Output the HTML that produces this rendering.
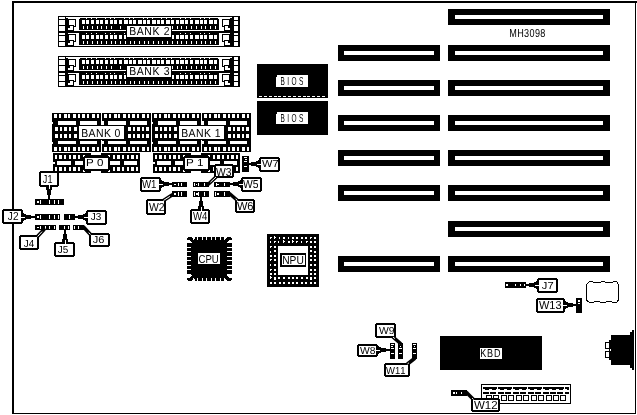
<!DOCTYPE html>
<html><head><meta charset="utf-8"><style>
html,body{margin:0;padding:0;background:#fff;width:637px;height:415px;overflow:hidden}
svg{display:block;will-change:transform}
text{font-family:"Liberation Sans",sans-serif;font-kerning:none;text-rendering:geometricPrecision}
</style></head><body>
<svg width="637" height="415" viewBox="0 0 637 415" shape-rendering="crispEdges">
<rect x="0" y="0" width="637" height="415" fill="#fff"/>
<rect x="12" y="1" width="625" height="2" fill="#000"/>
<rect x="12" y="1" width="2" height="413" fill="#000"/>
<rect x="635" y="1" width="1" height="413" fill="#000"/>
<rect x="12" y="413" width="624" height="1" fill="#000"/>
<rect x="448" y="9" width="162" height="16" fill="#000"/>
<rect x="455" y="15" width="148" height="4" fill="#fff"/>
<rect x="448" y="45" width="162" height="16" fill="#000"/>
<rect x="455" y="51" width="148" height="4" fill="#fff"/>
<rect x="338" y="45" width="102" height="16" fill="#000"/>
<rect x="344" y="51" width="90" height="4" fill="#fff"/>
<rect x="448" y="80" width="162" height="16" fill="#000"/>
<rect x="455" y="86" width="148" height="4" fill="#fff"/>
<rect x="338" y="80" width="102" height="16" fill="#000"/>
<rect x="344" y="86" width="90" height="4" fill="#fff"/>
<rect x="448" y="115" width="162" height="16" fill="#000"/>
<rect x="455" y="121" width="148" height="4" fill="#fff"/>
<rect x="338" y="115" width="102" height="16" fill="#000"/>
<rect x="344" y="121" width="90" height="4" fill="#fff"/>
<rect x="448" y="150" width="162" height="16" fill="#000"/>
<rect x="455" y="156" width="148" height="4" fill="#fff"/>
<rect x="338" y="150" width="102" height="16" fill="#000"/>
<rect x="344" y="156" width="90" height="4" fill="#fff"/>
<rect x="448" y="185" width="162" height="16" fill="#000"/>
<rect x="455" y="191" width="148" height="4" fill="#fff"/>
<rect x="338" y="185" width="102" height="16" fill="#000"/>
<rect x="344" y="191" width="90" height="4" fill="#fff"/>
<rect x="448" y="221" width="162" height="16" fill="#000"/>
<rect x="455" y="227" width="148" height="4" fill="#fff"/>
<rect x="448" y="256" width="162" height="16" fill="#000"/>
<rect x="455" y="262" width="148" height="4" fill="#fff"/>
<rect x="338" y="256" width="102" height="16" fill="#000"/>
<rect x="344" y="262" width="90" height="4" fill="#fff"/>
<text transform="translate(509.26,37) scale(0.780,1)" font-size="11.63" letter-spacing="0.476" fill="#000" xml:space="preserve">MH3098</text>
<rect x="257" y="64" width="71" height="34" fill="#000"/>
<rect x="276" y="75" width="32" height="12" fill="#fff"/>
<rect x="276" y="75" width="1" height="2" fill="#000"/>
<text transform="translate(280.47,85) scale(0.560,1)" font-size="11.63" letter-spacing="4.329" fill="#000" xml:space="preserve">BIOS</text>
<rect x="259" y="96" width="3" height="1" fill="#fff"/>
<rect x="264" y="96" width="3" height="1" fill="#fff"/>
<rect x="269" y="96" width="3" height="1" fill="#fff"/>
<rect x="274" y="96" width="3" height="1" fill="#fff"/>
<rect x="278" y="96" width="3" height="1" fill="#fff"/>
<rect x="283" y="96" width="3" height="1" fill="#fff"/>
<rect x="288" y="96" width="3" height="1" fill="#fff"/>
<rect x="293" y="96" width="3" height="1" fill="#fff"/>
<rect x="298" y="96" width="3" height="1" fill="#fff"/>
<rect x="303" y="96" width="3" height="1" fill="#fff"/>
<rect x="307" y="96" width="3" height="1" fill="#fff"/>
<rect x="312" y="96" width="3" height="1" fill="#fff"/>
<rect x="317" y="96" width="3" height="1" fill="#fff"/>
<rect x="322" y="96" width="3" height="1" fill="#fff"/>
<rect x="257" y="101" width="71" height="34" fill="#000"/>
<rect x="276" y="112" width="32" height="12" fill="#fff"/>
<rect x="276" y="112" width="1" height="2" fill="#000"/>
<text transform="translate(280.47,122) scale(0.560,1)" font-size="11.63" letter-spacing="4.329" fill="#000" xml:space="preserve">BIOS</text>
<rect x="440" y="336" width="102" height="34" fill="#000"/>
<rect x="480" y="348" width="22" height="11" fill="#fff"/>
<text transform="translate(480.26,357) scale(0.780,1)" font-size="11.63" letter-spacing="0.980" fill="#000" xml:space="preserve">KBD</text>
<rect x="58" y="16" width="182" height="31" fill="#000"/>
<rect x="68" y="17" width="162" height="14" fill="#fff"/>
<rect x="68" y="33" width="162" height="13" fill="#fff"/>
<rect x="66" y="17" width="2" height="1" fill="#fff"/>
<rect x="230" y="17" width="2" height="1" fill="#fff"/>
<rect x="59" y="17" width="6" height="2" fill="#fff"/>
<rect x="59" y="20" width="6" height="5" fill="#fff"/>
<rect x="59" y="26" width="6" height="5" fill="#fff"/>
<rect x="59" y="33" width="6" height="2" fill="#fff"/>
<rect x="59" y="36" width="6" height="5" fill="#fff"/>
<rect x="59" y="42" width="6" height="4" fill="#fff"/>
<rect x="234" y="17" width="4" height="3" fill="#fff"/>
<rect x="234" y="21" width="4" height="4" fill="#fff"/>
<rect x="234" y="26" width="4" height="5" fill="#fff"/>
<rect x="234" y="33" width="4" height="2" fill="#fff"/>
<rect x="234" y="36" width="4" height="5" fill="#fff"/>
<rect x="234" y="42" width="4" height="4" fill="#fff"/>
<rect x="68" y="19" width="8" height="1" fill="#000"/>
<rect x="222" y="19" width="8" height="1" fill="#000"/>
<rect x="68" y="19" width="1" height="9" fill="#000"/>
<rect x="229" y="19" width="1" height="9" fill="#000"/>
<rect x="75" y="19" width="1" height="8" fill="#000"/>
<rect x="222" y="19" width="1" height="8" fill="#000"/>
<rect x="68" y="25" width="6" height="1" fill="#000"/>
<rect x="224" y="25" width="6" height="1" fill="#000"/>
<rect x="73" y="26" width="3" height="1" fill="#000"/>
<rect x="222" y="26" width="3" height="1" fill="#000"/>
<rect x="73" y="26" width="1" height="5" fill="#000"/>
<rect x="224" y="26" width="1" height="5" fill="#000"/>
<rect x="68" y="26" width="2" height="2" fill="#000"/>
<rect x="228" y="26" width="2" height="2" fill="#000"/>
<rect x="68" y="30" width="6" height="1" fill="#000"/>
<rect x="224" y="30" width="6" height="1" fill="#000"/>
<rect x="68" y="34" width="8" height="1" fill="#000"/>
<rect x="222" y="34" width="8" height="1" fill="#000"/>
<rect x="68" y="34" width="1" height="9" fill="#000"/>
<rect x="229" y="34" width="1" height="9" fill="#000"/>
<rect x="75" y="34" width="1" height="8" fill="#000"/>
<rect x="222" y="34" width="1" height="8" fill="#000"/>
<rect x="68" y="40" width="6" height="1" fill="#000"/>
<rect x="224" y="40" width="6" height="1" fill="#000"/>
<rect x="73" y="41" width="3" height="1" fill="#000"/>
<rect x="222" y="41" width="3" height="1" fill="#000"/>
<rect x="73" y="41" width="1" height="5" fill="#000"/>
<rect x="224" y="41" width="1" height="5" fill="#000"/>
<rect x="68" y="41" width="2" height="2" fill="#000"/>
<rect x="228" y="41" width="2" height="2" fill="#000"/>
<rect x="68" y="45" width="6" height="1" fill="#000"/>
<rect x="224" y="45" width="6" height="1" fill="#000"/>
<rect x="79" y="18" width="140" height="12" fill="#000"/>
<rect x="79" y="31" width="140" height="14" fill="#000"/>
<rect x="79" y="18" width="1" height="1" fill="#fff"/>
<rect x="218" y="18" width="1" height="1" fill="#fff"/>
<rect x="82" y="20" width="3" height="4" fill="#fff"/>
<rect x="82" y="35" width="3" height="4" fill="#fff"/>
<rect x="83" y="26" width="1" height="3" fill="#fff"/>
<rect x="83" y="41" width="1" height="3" fill="#fff"/>
<rect x="86" y="20" width="3" height="4" fill="#fff"/>
<rect x="86" y="35" width="3" height="4" fill="#fff"/>
<rect x="87" y="26" width="1" height="3" fill="#fff"/>
<rect x="87" y="41" width="1" height="3" fill="#fff"/>
<rect x="86" y="18" width="1" height="1" fill="#fff"/>
<rect x="86" y="33" width="1" height="1" fill="#fff"/>
<rect x="91" y="20" width="3" height="4" fill="#fff"/>
<rect x="91" y="35" width="3" height="4" fill="#fff"/>
<rect x="92" y="26" width="1" height="3" fill="#fff"/>
<rect x="92" y="41" width="1" height="3" fill="#fff"/>
<rect x="91" y="18" width="1" height="1" fill="#fff"/>
<rect x="91" y="33" width="1" height="1" fill="#fff"/>
<rect x="96" y="20" width="3" height="4" fill="#fff"/>
<rect x="96" y="35" width="3" height="4" fill="#fff"/>
<rect x="97" y="26" width="1" height="3" fill="#fff"/>
<rect x="97" y="41" width="1" height="3" fill="#fff"/>
<rect x="96" y="18" width="1" height="1" fill="#fff"/>
<rect x="96" y="33" width="1" height="1" fill="#fff"/>
<rect x="100" y="20" width="3" height="4" fill="#fff"/>
<rect x="100" y="35" width="3" height="4" fill="#fff"/>
<rect x="101" y="26" width="1" height="3" fill="#fff"/>
<rect x="101" y="41" width="1" height="3" fill="#fff"/>
<rect x="105" y="20" width="3" height="4" fill="#fff"/>
<rect x="105" y="35" width="3" height="4" fill="#fff"/>
<rect x="106" y="26" width="1" height="3" fill="#fff"/>
<rect x="106" y="41" width="1" height="3" fill="#fff"/>
<rect x="105" y="18" width="1" height="1" fill="#fff"/>
<rect x="105" y="33" width="1" height="1" fill="#fff"/>
<rect x="110" y="20" width="3" height="4" fill="#fff"/>
<rect x="110" y="35" width="3" height="4" fill="#fff"/>
<rect x="111" y="26" width="1" height="3" fill="#fff"/>
<rect x="111" y="41" width="1" height="3" fill="#fff"/>
<rect x="110" y="18" width="1" height="1" fill="#fff"/>
<rect x="110" y="33" width="1" height="1" fill="#fff"/>
<rect x="114" y="20" width="3" height="4" fill="#fff"/>
<rect x="114" y="35" width="3" height="4" fill="#fff"/>
<rect x="115" y="41" width="1" height="3" fill="#fff"/>
<rect x="114" y="18" width="1" height="1" fill="#fff"/>
<rect x="114" y="33" width="1" height="1" fill="#fff"/>
<rect x="119" y="20" width="3" height="4" fill="#fff"/>
<rect x="119" y="35" width="3" height="4" fill="#fff"/>
<rect x="120" y="26" width="1" height="3" fill="#fff"/>
<rect x="120" y="41" width="1" height="3" fill="#fff"/>
<rect x="124" y="20" width="4" height="4" fill="#fff"/>
<rect x="124" y="35" width="4" height="4" fill="#fff"/>
<rect x="125" y="41" width="1" height="3" fill="#fff"/>
<rect x="124" y="18" width="1" height="1" fill="#fff"/>
<rect x="124" y="33" width="1" height="1" fill="#fff"/>
<rect x="129" y="20" width="3" height="4" fill="#fff"/>
<rect x="129" y="35" width="3" height="4" fill="#fff"/>
<rect x="130" y="26" width="1" height="3" fill="#fff"/>
<rect x="130" y="41" width="1" height="3" fill="#fff"/>
<rect x="129" y="18" width="1" height="1" fill="#fff"/>
<rect x="129" y="33" width="1" height="1" fill="#fff"/>
<rect x="133" y="20" width="3" height="4" fill="#fff"/>
<rect x="133" y="35" width="3" height="4" fill="#fff"/>
<rect x="134" y="41" width="1" height="3" fill="#fff"/>
<rect x="133" y="18" width="1" height="1" fill="#fff"/>
<rect x="133" y="33" width="1" height="1" fill="#fff"/>
<rect x="138" y="20" width="4" height="4" fill="#fff"/>
<rect x="138" y="35" width="4" height="4" fill="#fff"/>
<rect x="139" y="26" width="1" height="3" fill="#fff"/>
<rect x="139" y="41" width="1" height="3" fill="#fff"/>
<rect x="143" y="20" width="3" height="4" fill="#fff"/>
<rect x="143" y="35" width="3" height="4" fill="#fff"/>
<rect x="144" y="26" width="1" height="3" fill="#fff"/>
<rect x="144" y="41" width="1" height="3" fill="#fff"/>
<rect x="143" y="18" width="1" height="1" fill="#fff"/>
<rect x="143" y="33" width="1" height="1" fill="#fff"/>
<rect x="147" y="20" width="3" height="4" fill="#fff"/>
<rect x="147" y="35" width="3" height="4" fill="#fff"/>
<rect x="148" y="26" width="1" height="3" fill="#fff"/>
<rect x="148" y="41" width="1" height="3" fill="#fff"/>
<rect x="147" y="18" width="1" height="1" fill="#fff"/>
<rect x="147" y="33" width="1" height="1" fill="#fff"/>
<rect x="152" y="20" width="4" height="4" fill="#fff"/>
<rect x="152" y="35" width="4" height="4" fill="#fff"/>
<rect x="153" y="26" width="1" height="3" fill="#fff"/>
<rect x="153" y="41" width="1" height="3" fill="#fff"/>
<rect x="152" y="18" width="1" height="1" fill="#fff"/>
<rect x="152" y="33" width="1" height="1" fill="#fff"/>
<rect x="157" y="20" width="3" height="4" fill="#fff"/>
<rect x="157" y="35" width="3" height="4" fill="#fff"/>
<rect x="158" y="26" width="1" height="3" fill="#fff"/>
<rect x="158" y="41" width="1" height="3" fill="#fff"/>
<rect x="161" y="20" width="3" height="4" fill="#fff"/>
<rect x="161" y="35" width="3" height="4" fill="#fff"/>
<rect x="162" y="26" width="1" height="3" fill="#fff"/>
<rect x="162" y="41" width="1" height="3" fill="#fff"/>
<rect x="161" y="18" width="1" height="1" fill="#fff"/>
<rect x="161" y="33" width="1" height="1" fill="#fff"/>
<rect x="166" y="20" width="4" height="4" fill="#fff"/>
<rect x="166" y="35" width="4" height="4" fill="#fff"/>
<rect x="167" y="26" width="1" height="3" fill="#fff"/>
<rect x="167" y="41" width="1" height="3" fill="#fff"/>
<rect x="166" y="18" width="1" height="1" fill="#fff"/>
<rect x="166" y="33" width="1" height="1" fill="#fff"/>
<rect x="171" y="20" width="3" height="4" fill="#fff"/>
<rect x="171" y="35" width="3" height="4" fill="#fff"/>
<rect x="172" y="26" width="1" height="3" fill="#fff"/>
<rect x="172" y="41" width="1" height="3" fill="#fff"/>
<rect x="171" y="18" width="1" height="1" fill="#fff"/>
<rect x="171" y="33" width="1" height="1" fill="#fff"/>
<rect x="176" y="20" width="3" height="4" fill="#fff"/>
<rect x="176" y="35" width="3" height="4" fill="#fff"/>
<rect x="177" y="26" width="1" height="3" fill="#fff"/>
<rect x="177" y="41" width="1" height="3" fill="#fff"/>
<rect x="180" y="20" width="4" height="4" fill="#fff"/>
<rect x="180" y="35" width="4" height="4" fill="#fff"/>
<rect x="181" y="26" width="1" height="3" fill="#fff"/>
<rect x="181" y="41" width="1" height="3" fill="#fff"/>
<rect x="180" y="18" width="1" height="1" fill="#fff"/>
<rect x="180" y="33" width="1" height="1" fill="#fff"/>
<rect x="185" y="20" width="3" height="4" fill="#fff"/>
<rect x="185" y="35" width="3" height="4" fill="#fff"/>
<rect x="186" y="26" width="1" height="3" fill="#fff"/>
<rect x="186" y="41" width="1" height="3" fill="#fff"/>
<rect x="185" y="18" width="1" height="1" fill="#fff"/>
<rect x="185" y="33" width="1" height="1" fill="#fff"/>
<rect x="190" y="20" width="3" height="4" fill="#fff"/>
<rect x="190" y="35" width="3" height="4" fill="#fff"/>
<rect x="191" y="26" width="1" height="3" fill="#fff"/>
<rect x="191" y="41" width="1" height="3" fill="#fff"/>
<rect x="190" y="18" width="1" height="1" fill="#fff"/>
<rect x="190" y="33" width="1" height="1" fill="#fff"/>
<rect x="195" y="20" width="4" height="4" fill="#fff"/>
<rect x="195" y="35" width="4" height="4" fill="#fff"/>
<rect x="196" y="26" width="1" height="3" fill="#fff"/>
<rect x="196" y="41" width="1" height="3" fill="#fff"/>
<rect x="200" y="20" width="3" height="4" fill="#fff"/>
<rect x="200" y="35" width="3" height="4" fill="#fff"/>
<rect x="201" y="26" width="1" height="3" fill="#fff"/>
<rect x="201" y="41" width="1" height="3" fill="#fff"/>
<rect x="200" y="18" width="1" height="1" fill="#fff"/>
<rect x="200" y="33" width="1" height="1" fill="#fff"/>
<rect x="204" y="20" width="3" height="4" fill="#fff"/>
<rect x="204" y="35" width="3" height="4" fill="#fff"/>
<rect x="205" y="26" width="1" height="3" fill="#fff"/>
<rect x="205" y="41" width="1" height="3" fill="#fff"/>
<rect x="204" y="18" width="1" height="1" fill="#fff"/>
<rect x="204" y="33" width="1" height="1" fill="#fff"/>
<rect x="209" y="20" width="4" height="4" fill="#fff"/>
<rect x="209" y="35" width="4" height="4" fill="#fff"/>
<rect x="210" y="26" width="1" height="3" fill="#fff"/>
<rect x="210" y="41" width="1" height="3" fill="#fff"/>
<rect x="209" y="18" width="1" height="1" fill="#fff"/>
<rect x="209" y="33" width="1" height="1" fill="#fff"/>
<rect x="214" y="20" width="3" height="4" fill="#fff"/>
<rect x="214" y="35" width="3" height="4" fill="#fff"/>
<rect x="215" y="26" width="1" height="3" fill="#fff"/>
<rect x="215" y="41" width="1" height="3" fill="#fff"/>
<rect x="126" y="25" width="46" height="14" fill="#000"/>
<rect x="127" y="26" width="44" height="11" fill="#fff"/>
<text transform="translate(129.14,35) scale(0.900,1)" font-size="11.63" letter-spacing="0.702" fill="#000" xml:space="preserve">BANK 2</text>
<rect x="58" y="56" width="182" height="31" fill="#000"/>
<rect x="68" y="57" width="162" height="14" fill="#fff"/>
<rect x="68" y="73" width="162" height="13" fill="#fff"/>
<rect x="66" y="57" width="2" height="1" fill="#fff"/>
<rect x="230" y="57" width="2" height="1" fill="#fff"/>
<rect x="59" y="57" width="6" height="2" fill="#fff"/>
<rect x="59" y="60" width="6" height="5" fill="#fff"/>
<rect x="59" y="66" width="6" height="5" fill="#fff"/>
<rect x="59" y="73" width="6" height="2" fill="#fff"/>
<rect x="59" y="76" width="6" height="5" fill="#fff"/>
<rect x="59" y="82" width="6" height="4" fill="#fff"/>
<rect x="234" y="57" width="4" height="3" fill="#fff"/>
<rect x="234" y="61" width="4" height="4" fill="#fff"/>
<rect x="234" y="66" width="4" height="5" fill="#fff"/>
<rect x="234" y="73" width="4" height="2" fill="#fff"/>
<rect x="234" y="76" width="4" height="5" fill="#fff"/>
<rect x="234" y="82" width="4" height="4" fill="#fff"/>
<rect x="68" y="59" width="8" height="1" fill="#000"/>
<rect x="222" y="59" width="8" height="1" fill="#000"/>
<rect x="68" y="59" width="1" height="9" fill="#000"/>
<rect x="229" y="59" width="1" height="9" fill="#000"/>
<rect x="75" y="59" width="1" height="8" fill="#000"/>
<rect x="222" y="59" width="1" height="8" fill="#000"/>
<rect x="68" y="65" width="6" height="1" fill="#000"/>
<rect x="224" y="65" width="6" height="1" fill="#000"/>
<rect x="73" y="66" width="3" height="1" fill="#000"/>
<rect x="222" y="66" width="3" height="1" fill="#000"/>
<rect x="73" y="66" width="1" height="5" fill="#000"/>
<rect x="224" y="66" width="1" height="5" fill="#000"/>
<rect x="68" y="66" width="2" height="2" fill="#000"/>
<rect x="228" y="66" width="2" height="2" fill="#000"/>
<rect x="68" y="70" width="6" height="1" fill="#000"/>
<rect x="224" y="70" width="6" height="1" fill="#000"/>
<rect x="68" y="74" width="8" height="1" fill="#000"/>
<rect x="222" y="74" width="8" height="1" fill="#000"/>
<rect x="68" y="74" width="1" height="9" fill="#000"/>
<rect x="229" y="74" width="1" height="9" fill="#000"/>
<rect x="75" y="74" width="1" height="8" fill="#000"/>
<rect x="222" y="74" width="1" height="8" fill="#000"/>
<rect x="68" y="80" width="6" height="1" fill="#000"/>
<rect x="224" y="80" width="6" height="1" fill="#000"/>
<rect x="73" y="81" width="3" height="1" fill="#000"/>
<rect x="222" y="81" width="3" height="1" fill="#000"/>
<rect x="73" y="81" width="1" height="5" fill="#000"/>
<rect x="224" y="81" width="1" height="5" fill="#000"/>
<rect x="68" y="81" width="2" height="2" fill="#000"/>
<rect x="228" y="81" width="2" height="2" fill="#000"/>
<rect x="68" y="85" width="6" height="1" fill="#000"/>
<rect x="224" y="85" width="6" height="1" fill="#000"/>
<rect x="79" y="58" width="140" height="12" fill="#000"/>
<rect x="79" y="71" width="140" height="14" fill="#000"/>
<rect x="79" y="58" width="1" height="1" fill="#fff"/>
<rect x="218" y="58" width="1" height="1" fill="#fff"/>
<rect x="82" y="60" width="3" height="4" fill="#fff"/>
<rect x="82" y="75" width="3" height="4" fill="#fff"/>
<rect x="83" y="66" width="1" height="3" fill="#fff"/>
<rect x="83" y="81" width="1" height="3" fill="#fff"/>
<rect x="86" y="60" width="3" height="4" fill="#fff"/>
<rect x="86" y="75" width="3" height="4" fill="#fff"/>
<rect x="87" y="66" width="1" height="3" fill="#fff"/>
<rect x="87" y="81" width="1" height="3" fill="#fff"/>
<rect x="86" y="58" width="1" height="1" fill="#fff"/>
<rect x="86" y="73" width="1" height="1" fill="#fff"/>
<rect x="91" y="60" width="3" height="4" fill="#fff"/>
<rect x="91" y="75" width="3" height="4" fill="#fff"/>
<rect x="92" y="66" width="1" height="3" fill="#fff"/>
<rect x="92" y="81" width="1" height="3" fill="#fff"/>
<rect x="91" y="58" width="1" height="1" fill="#fff"/>
<rect x="91" y="73" width="1" height="1" fill="#fff"/>
<rect x="96" y="60" width="3" height="4" fill="#fff"/>
<rect x="96" y="75" width="3" height="4" fill="#fff"/>
<rect x="97" y="66" width="1" height="3" fill="#fff"/>
<rect x="97" y="81" width="1" height="3" fill="#fff"/>
<rect x="96" y="58" width="1" height="1" fill="#fff"/>
<rect x="96" y="73" width="1" height="1" fill="#fff"/>
<rect x="100" y="60" width="3" height="4" fill="#fff"/>
<rect x="100" y="75" width="3" height="4" fill="#fff"/>
<rect x="101" y="66" width="1" height="3" fill="#fff"/>
<rect x="101" y="81" width="1" height="3" fill="#fff"/>
<rect x="105" y="60" width="3" height="4" fill="#fff"/>
<rect x="105" y="75" width="3" height="4" fill="#fff"/>
<rect x="106" y="66" width="1" height="3" fill="#fff"/>
<rect x="106" y="81" width="1" height="3" fill="#fff"/>
<rect x="105" y="58" width="1" height="1" fill="#fff"/>
<rect x="105" y="73" width="1" height="1" fill="#fff"/>
<rect x="110" y="60" width="3" height="4" fill="#fff"/>
<rect x="110" y="75" width="3" height="4" fill="#fff"/>
<rect x="111" y="66" width="1" height="3" fill="#fff"/>
<rect x="111" y="81" width="1" height="3" fill="#fff"/>
<rect x="110" y="58" width="1" height="1" fill="#fff"/>
<rect x="110" y="73" width="1" height="1" fill="#fff"/>
<rect x="114" y="60" width="3" height="4" fill="#fff"/>
<rect x="114" y="75" width="3" height="4" fill="#fff"/>
<rect x="115" y="81" width="1" height="3" fill="#fff"/>
<rect x="114" y="58" width="1" height="1" fill="#fff"/>
<rect x="114" y="73" width="1" height="1" fill="#fff"/>
<rect x="119" y="60" width="3" height="4" fill="#fff"/>
<rect x="119" y="75" width="3" height="4" fill="#fff"/>
<rect x="120" y="66" width="1" height="3" fill="#fff"/>
<rect x="120" y="81" width="1" height="3" fill="#fff"/>
<rect x="124" y="60" width="4" height="4" fill="#fff"/>
<rect x="124" y="75" width="4" height="4" fill="#fff"/>
<rect x="125" y="81" width="1" height="3" fill="#fff"/>
<rect x="124" y="58" width="1" height="1" fill="#fff"/>
<rect x="124" y="73" width="1" height="1" fill="#fff"/>
<rect x="129" y="60" width="3" height="4" fill="#fff"/>
<rect x="129" y="75" width="3" height="4" fill="#fff"/>
<rect x="130" y="66" width="1" height="3" fill="#fff"/>
<rect x="130" y="81" width="1" height="3" fill="#fff"/>
<rect x="129" y="58" width="1" height="1" fill="#fff"/>
<rect x="129" y="73" width="1" height="1" fill="#fff"/>
<rect x="133" y="60" width="3" height="4" fill="#fff"/>
<rect x="133" y="75" width="3" height="4" fill="#fff"/>
<rect x="134" y="81" width="1" height="3" fill="#fff"/>
<rect x="133" y="58" width="1" height="1" fill="#fff"/>
<rect x="133" y="73" width="1" height="1" fill="#fff"/>
<rect x="138" y="60" width="4" height="4" fill="#fff"/>
<rect x="138" y="75" width="4" height="4" fill="#fff"/>
<rect x="139" y="66" width="1" height="3" fill="#fff"/>
<rect x="139" y="81" width="1" height="3" fill="#fff"/>
<rect x="143" y="60" width="3" height="4" fill="#fff"/>
<rect x="143" y="75" width="3" height="4" fill="#fff"/>
<rect x="144" y="66" width="1" height="3" fill="#fff"/>
<rect x="144" y="81" width="1" height="3" fill="#fff"/>
<rect x="143" y="58" width="1" height="1" fill="#fff"/>
<rect x="143" y="73" width="1" height="1" fill="#fff"/>
<rect x="147" y="60" width="3" height="4" fill="#fff"/>
<rect x="147" y="75" width="3" height="4" fill="#fff"/>
<rect x="148" y="66" width="1" height="3" fill="#fff"/>
<rect x="148" y="81" width="1" height="3" fill="#fff"/>
<rect x="147" y="58" width="1" height="1" fill="#fff"/>
<rect x="147" y="73" width="1" height="1" fill="#fff"/>
<rect x="152" y="60" width="4" height="4" fill="#fff"/>
<rect x="152" y="75" width="4" height="4" fill="#fff"/>
<rect x="153" y="66" width="1" height="3" fill="#fff"/>
<rect x="153" y="81" width="1" height="3" fill="#fff"/>
<rect x="152" y="58" width="1" height="1" fill="#fff"/>
<rect x="152" y="73" width="1" height="1" fill="#fff"/>
<rect x="157" y="60" width="3" height="4" fill="#fff"/>
<rect x="157" y="75" width="3" height="4" fill="#fff"/>
<rect x="158" y="66" width="1" height="3" fill="#fff"/>
<rect x="158" y="81" width="1" height="3" fill="#fff"/>
<rect x="161" y="60" width="3" height="4" fill="#fff"/>
<rect x="161" y="75" width="3" height="4" fill="#fff"/>
<rect x="162" y="66" width="1" height="3" fill="#fff"/>
<rect x="162" y="81" width="1" height="3" fill="#fff"/>
<rect x="161" y="58" width="1" height="1" fill="#fff"/>
<rect x="161" y="73" width="1" height="1" fill="#fff"/>
<rect x="166" y="60" width="4" height="4" fill="#fff"/>
<rect x="166" y="75" width="4" height="4" fill="#fff"/>
<rect x="167" y="66" width="1" height="3" fill="#fff"/>
<rect x="167" y="81" width="1" height="3" fill="#fff"/>
<rect x="166" y="58" width="1" height="1" fill="#fff"/>
<rect x="166" y="73" width="1" height="1" fill="#fff"/>
<rect x="171" y="60" width="3" height="4" fill="#fff"/>
<rect x="171" y="75" width="3" height="4" fill="#fff"/>
<rect x="172" y="66" width="1" height="3" fill="#fff"/>
<rect x="172" y="81" width="1" height="3" fill="#fff"/>
<rect x="171" y="58" width="1" height="1" fill="#fff"/>
<rect x="171" y="73" width="1" height="1" fill="#fff"/>
<rect x="176" y="60" width="3" height="4" fill="#fff"/>
<rect x="176" y="75" width="3" height="4" fill="#fff"/>
<rect x="177" y="66" width="1" height="3" fill="#fff"/>
<rect x="177" y="81" width="1" height="3" fill="#fff"/>
<rect x="180" y="60" width="4" height="4" fill="#fff"/>
<rect x="180" y="75" width="4" height="4" fill="#fff"/>
<rect x="181" y="66" width="1" height="3" fill="#fff"/>
<rect x="181" y="81" width="1" height="3" fill="#fff"/>
<rect x="180" y="58" width="1" height="1" fill="#fff"/>
<rect x="180" y="73" width="1" height="1" fill="#fff"/>
<rect x="185" y="60" width="3" height="4" fill="#fff"/>
<rect x="185" y="75" width="3" height="4" fill="#fff"/>
<rect x="186" y="66" width="1" height="3" fill="#fff"/>
<rect x="186" y="81" width="1" height="3" fill="#fff"/>
<rect x="185" y="58" width="1" height="1" fill="#fff"/>
<rect x="185" y="73" width="1" height="1" fill="#fff"/>
<rect x="190" y="60" width="3" height="4" fill="#fff"/>
<rect x="190" y="75" width="3" height="4" fill="#fff"/>
<rect x="191" y="66" width="1" height="3" fill="#fff"/>
<rect x="191" y="81" width="1" height="3" fill="#fff"/>
<rect x="190" y="58" width="1" height="1" fill="#fff"/>
<rect x="190" y="73" width="1" height="1" fill="#fff"/>
<rect x="195" y="60" width="4" height="4" fill="#fff"/>
<rect x="195" y="75" width="4" height="4" fill="#fff"/>
<rect x="196" y="66" width="1" height="3" fill="#fff"/>
<rect x="196" y="81" width="1" height="3" fill="#fff"/>
<rect x="200" y="60" width="3" height="4" fill="#fff"/>
<rect x="200" y="75" width="3" height="4" fill="#fff"/>
<rect x="201" y="66" width="1" height="3" fill="#fff"/>
<rect x="201" y="81" width="1" height="3" fill="#fff"/>
<rect x="200" y="58" width="1" height="1" fill="#fff"/>
<rect x="200" y="73" width="1" height="1" fill="#fff"/>
<rect x="204" y="60" width="3" height="4" fill="#fff"/>
<rect x="204" y="75" width="3" height="4" fill="#fff"/>
<rect x="205" y="66" width="1" height="3" fill="#fff"/>
<rect x="205" y="81" width="1" height="3" fill="#fff"/>
<rect x="204" y="58" width="1" height="1" fill="#fff"/>
<rect x="204" y="73" width="1" height="1" fill="#fff"/>
<rect x="209" y="60" width="4" height="4" fill="#fff"/>
<rect x="209" y="75" width="4" height="4" fill="#fff"/>
<rect x="210" y="66" width="1" height="3" fill="#fff"/>
<rect x="210" y="81" width="1" height="3" fill="#fff"/>
<rect x="209" y="58" width="1" height="1" fill="#fff"/>
<rect x="209" y="73" width="1" height="1" fill="#fff"/>
<rect x="214" y="60" width="3" height="4" fill="#fff"/>
<rect x="214" y="75" width="3" height="4" fill="#fff"/>
<rect x="215" y="66" width="1" height="3" fill="#fff"/>
<rect x="215" y="81" width="1" height="3" fill="#fff"/>
<rect x="126" y="65" width="46" height="14" fill="#000"/>
<rect x="127" y="66" width="44" height="11" fill="#fff"/>
<text transform="translate(129.14,75) scale(0.900,1)" font-size="11.63" letter-spacing="0.687" fill="#000" xml:space="preserve">BANK 3</text>
<rect x="52" y="113" width="99" height="39" fill="#000"/>
<rect x="101" y="113" width="1" height="39" fill="#fff"/>
<rect x="54" y="114" width="3" height="4" fill="#fff"/>
<rect x="54" y="147" width="3" height="4" fill="#fff"/>
<rect x="59" y="114" width="2" height="4" fill="#fff"/>
<rect x="59" y="147" width="2" height="4" fill="#fff"/>
<rect x="64" y="114" width="3" height="4" fill="#fff"/>
<rect x="64" y="147" width="3" height="4" fill="#fff"/>
<rect x="68" y="114" width="2" height="4" fill="#fff"/>
<rect x="68" y="147" width="2" height="4" fill="#fff"/>
<rect x="73" y="114" width="3" height="4" fill="#fff"/>
<rect x="73" y="147" width="3" height="4" fill="#fff"/>
<rect x="78" y="114" width="2" height="4" fill="#fff"/>
<rect x="78" y="147" width="2" height="4" fill="#fff"/>
<rect x="82" y="114" width="3" height="4" fill="#fff"/>
<rect x="82" y="147" width="3" height="4" fill="#fff"/>
<rect x="87" y="114" width="2" height="4" fill="#fff"/>
<rect x="87" y="147" width="2" height="4" fill="#fff"/>
<rect x="92" y="114" width="3" height="4" fill="#fff"/>
<rect x="92" y="147" width="3" height="4" fill="#fff"/>
<rect x="97" y="114" width="2" height="4" fill="#fff"/>
<rect x="97" y="147" width="2" height="4" fill="#fff"/>
<rect x="58" y="121" width="18" height="4" fill="#fff"/>
<rect x="80" y="121" width="17" height="4" fill="#fff"/>
<rect x="58" y="141" width="18" height="3" fill="#fff"/>
<rect x="80" y="141" width="17" height="3" fill="#fff"/>
<rect x="52" y="122" width="1" height="2" fill="#fff"/>
<rect x="52" y="142" width="1" height="2" fill="#fff"/>
<rect x="104" y="114" width="3" height="4" fill="#fff"/>
<rect x="104" y="147" width="3" height="4" fill="#fff"/>
<rect x="109" y="114" width="2" height="4" fill="#fff"/>
<rect x="109" y="147" width="2" height="4" fill="#fff"/>
<rect x="114" y="114" width="3" height="4" fill="#fff"/>
<rect x="114" y="147" width="3" height="4" fill="#fff"/>
<rect x="118" y="114" width="2" height="4" fill="#fff"/>
<rect x="118" y="147" width="2" height="4" fill="#fff"/>
<rect x="123" y="114" width="3" height="4" fill="#fff"/>
<rect x="123" y="147" width="3" height="4" fill="#fff"/>
<rect x="128" y="114" width="2" height="4" fill="#fff"/>
<rect x="128" y="147" width="2" height="4" fill="#fff"/>
<rect x="132" y="114" width="3" height="4" fill="#fff"/>
<rect x="132" y="147" width="3" height="4" fill="#fff"/>
<rect x="137" y="114" width="2" height="4" fill="#fff"/>
<rect x="137" y="147" width="2" height="4" fill="#fff"/>
<rect x="142" y="114" width="3" height="4" fill="#fff"/>
<rect x="142" y="147" width="3" height="4" fill="#fff"/>
<rect x="147" y="114" width="2" height="4" fill="#fff"/>
<rect x="147" y="147" width="2" height="4" fill="#fff"/>
<rect x="108" y="121" width="18" height="4" fill="#fff"/>
<rect x="130" y="121" width="17" height="4" fill="#fff"/>
<rect x="108" y="141" width="18" height="3" fill="#fff"/>
<rect x="130" y="141" width="17" height="3" fill="#fff"/>
<rect x="102" y="122" width="1" height="2" fill="#fff"/>
<rect x="102" y="142" width="1" height="2" fill="#fff"/>
<rect x="102" y="121" width="2" height="4" fill="#fff"/>
<rect x="102" y="141" width="2" height="3" fill="#fff"/>
<rect x="55" y="127" width="3" height="4" fill="#fff"/>
<rect x="55" y="134" width="3" height="4" fill="#fff"/>
<rect x="128" y="127" width="3" height="4" fill="#fff"/>
<rect x="128" y="134" width="3" height="4" fill="#fff"/>
<rect x="60" y="127" width="2" height="4" fill="#fff"/>
<rect x="60" y="134" width="2" height="4" fill="#fff"/>
<rect x="133" y="127" width="2" height="4" fill="#fff"/>
<rect x="133" y="134" width="2" height="4" fill="#fff"/>
<rect x="64" y="127" width="3" height="4" fill="#fff"/>
<rect x="64" y="134" width="3" height="4" fill="#fff"/>
<rect x="137" y="127" width="3" height="4" fill="#fff"/>
<rect x="137" y="134" width="3" height="4" fill="#fff"/>
<rect x="69" y="127" width="2" height="4" fill="#fff"/>
<rect x="69" y="134" width="2" height="4" fill="#fff"/>
<rect x="142" y="127" width="2" height="4" fill="#fff"/>
<rect x="142" y="134" width="2" height="4" fill="#fff"/>
<rect x="74" y="127" width="3" height="4" fill="#fff"/>
<rect x="74" y="134" width="3" height="4" fill="#fff"/>
<rect x="146" y="127" width="3" height="4" fill="#fff"/>
<rect x="146" y="134" width="3" height="4" fill="#fff"/>
<rect x="78" y="125" width="47" height="15" fill="#000"/>
<rect x="79" y="126" width="45" height="13" fill="#fff"/>
<text transform="translate(81.14,137) scale(0.900,1)" font-size="11.63" letter-spacing="0.454" fill="#000" xml:space="preserve">BANK 0</text>
<rect x="152" y="113" width="99" height="39" fill="#000"/>
<rect x="201" y="113" width="1" height="39" fill="#fff"/>
<rect x="154" y="114" width="3" height="4" fill="#fff"/>
<rect x="154" y="147" width="3" height="4" fill="#fff"/>
<rect x="159" y="114" width="2" height="4" fill="#fff"/>
<rect x="159" y="147" width="2" height="4" fill="#fff"/>
<rect x="164" y="114" width="3" height="4" fill="#fff"/>
<rect x="164" y="147" width="3" height="4" fill="#fff"/>
<rect x="168" y="114" width="2" height="4" fill="#fff"/>
<rect x="168" y="147" width="2" height="4" fill="#fff"/>
<rect x="173" y="114" width="3" height="4" fill="#fff"/>
<rect x="173" y="147" width="3" height="4" fill="#fff"/>
<rect x="178" y="114" width="2" height="4" fill="#fff"/>
<rect x="178" y="147" width="2" height="4" fill="#fff"/>
<rect x="182" y="114" width="3" height="4" fill="#fff"/>
<rect x="182" y="147" width="3" height="4" fill="#fff"/>
<rect x="187" y="114" width="2" height="4" fill="#fff"/>
<rect x="187" y="147" width="2" height="4" fill="#fff"/>
<rect x="192" y="114" width="3" height="4" fill="#fff"/>
<rect x="192" y="147" width="3" height="4" fill="#fff"/>
<rect x="197" y="114" width="2" height="4" fill="#fff"/>
<rect x="197" y="147" width="2" height="4" fill="#fff"/>
<rect x="158" y="121" width="18" height="4" fill="#fff"/>
<rect x="180" y="121" width="17" height="4" fill="#fff"/>
<rect x="158" y="141" width="18" height="3" fill="#fff"/>
<rect x="180" y="141" width="17" height="3" fill="#fff"/>
<rect x="152" y="122" width="1" height="2" fill="#fff"/>
<rect x="152" y="142" width="1" height="2" fill="#fff"/>
<rect x="204" y="114" width="3" height="4" fill="#fff"/>
<rect x="204" y="147" width="3" height="4" fill="#fff"/>
<rect x="209" y="114" width="2" height="4" fill="#fff"/>
<rect x="209" y="147" width="2" height="4" fill="#fff"/>
<rect x="214" y="114" width="3" height="4" fill="#fff"/>
<rect x="214" y="147" width="3" height="4" fill="#fff"/>
<rect x="218" y="114" width="2" height="4" fill="#fff"/>
<rect x="218" y="147" width="2" height="4" fill="#fff"/>
<rect x="223" y="114" width="3" height="4" fill="#fff"/>
<rect x="223" y="147" width="3" height="4" fill="#fff"/>
<rect x="228" y="114" width="2" height="4" fill="#fff"/>
<rect x="228" y="147" width="2" height="4" fill="#fff"/>
<rect x="232" y="114" width="3" height="4" fill="#fff"/>
<rect x="232" y="147" width="3" height="4" fill="#fff"/>
<rect x="237" y="114" width="2" height="4" fill="#fff"/>
<rect x="237" y="147" width="2" height="4" fill="#fff"/>
<rect x="242" y="114" width="3" height="4" fill="#fff"/>
<rect x="242" y="147" width="3" height="4" fill="#fff"/>
<rect x="247" y="114" width="2" height="4" fill="#fff"/>
<rect x="247" y="147" width="2" height="4" fill="#fff"/>
<rect x="208" y="121" width="18" height="4" fill="#fff"/>
<rect x="230" y="121" width="17" height="4" fill="#fff"/>
<rect x="208" y="141" width="18" height="3" fill="#fff"/>
<rect x="230" y="141" width="17" height="3" fill="#fff"/>
<rect x="202" y="122" width="1" height="2" fill="#fff"/>
<rect x="202" y="142" width="1" height="2" fill="#fff"/>
<rect x="202" y="121" width="2" height="4" fill="#fff"/>
<rect x="202" y="141" width="2" height="3" fill="#fff"/>
<rect x="155" y="127" width="3" height="4" fill="#fff"/>
<rect x="155" y="134" width="3" height="4" fill="#fff"/>
<rect x="228" y="127" width="3" height="4" fill="#fff"/>
<rect x="228" y="134" width="3" height="4" fill="#fff"/>
<rect x="160" y="127" width="2" height="4" fill="#fff"/>
<rect x="160" y="134" width="2" height="4" fill="#fff"/>
<rect x="233" y="127" width="2" height="4" fill="#fff"/>
<rect x="233" y="134" width="2" height="4" fill="#fff"/>
<rect x="164" y="127" width="3" height="4" fill="#fff"/>
<rect x="164" y="134" width="3" height="4" fill="#fff"/>
<rect x="237" y="127" width="3" height="4" fill="#fff"/>
<rect x="237" y="134" width="3" height="4" fill="#fff"/>
<rect x="169" y="127" width="2" height="4" fill="#fff"/>
<rect x="169" y="134" width="2" height="4" fill="#fff"/>
<rect x="242" y="127" width="2" height="4" fill="#fff"/>
<rect x="242" y="134" width="2" height="4" fill="#fff"/>
<rect x="174" y="127" width="3" height="4" fill="#fff"/>
<rect x="174" y="134" width="3" height="4" fill="#fff"/>
<rect x="246" y="127" width="3" height="4" fill="#fff"/>
<rect x="246" y="134" width="3" height="4" fill="#fff"/>
<rect x="178" y="125" width="47" height="15" fill="#000"/>
<rect x="179" y="126" width="45" height="13" fill="#fff"/>
<text transform="translate(181.14,137) scale(0.900,1)" font-size="11.63" letter-spacing="0.476" fill="#000" xml:space="preserve">BANK 1</text>
<rect x="53" y="153" width="87" height="20" fill="#000"/>
<rect x="55" y="155" width="2" height="4" fill="#fff"/>
<rect x="55" y="167" width="2" height="4" fill="#fff"/>
<rect x="59" y="155" width="3" height="4" fill="#fff"/>
<rect x="59" y="167" width="3" height="4" fill="#fff"/>
<rect x="64" y="155" width="2" height="4" fill="#fff"/>
<rect x="64" y="167" width="2" height="4" fill="#fff"/>
<rect x="69" y="155" width="2" height="4" fill="#fff"/>
<rect x="69" y="167" width="2" height="4" fill="#fff"/>
<rect x="73" y="155" width="3" height="4" fill="#fff"/>
<rect x="73" y="167" width="3" height="4" fill="#fff"/>
<rect x="78" y="155" width="2" height="4" fill="#fff"/>
<rect x="78" y="167" width="2" height="4" fill="#fff"/>
<rect x="113" y="155" width="2" height="4" fill="#fff"/>
<rect x="113" y="167" width="2" height="4" fill="#fff"/>
<rect x="117" y="155" width="3" height="4" fill="#fff"/>
<rect x="117" y="167" width="3" height="4" fill="#fff"/>
<rect x="122" y="155" width="2" height="4" fill="#fff"/>
<rect x="122" y="167" width="2" height="4" fill="#fff"/>
<rect x="127" y="155" width="2" height="4" fill="#fff"/>
<rect x="127" y="167" width="2" height="4" fill="#fff"/>
<rect x="131" y="155" width="3" height="4" fill="#fff"/>
<rect x="131" y="167" width="3" height="4" fill="#fff"/>
<rect x="136" y="155" width="2" height="4" fill="#fff"/>
<rect x="136" y="167" width="2" height="4" fill="#fff"/>
<rect x="57" y="161" width="14" height="4" fill="#fff"/>
<rect x="75" y="161" width="8" height="4" fill="#fff"/>
<rect x="110" y="161" width="10" height="4" fill="#fff"/>
<rect x="124" y="161" width="13" height="4" fill="#fff"/>
<rect x="53" y="162" width="2" height="2" fill="#fff"/>
<rect x="85" y="158" width="23" height="11" fill="#fff"/>
<rect x="83" y="155" width="1" height="1" fill="#fff"/>
<rect x="84" y="155" width="1" height="1" fill="#fff"/>
<rect x="83" y="156" width="1" height="1" fill="#fff"/>
<rect x="109" y="155" width="1" height="1" fill="#fff"/>
<rect x="108" y="155" width="1" height="1" fill="#fff"/>
<rect x="109" y="156" width="1" height="1" fill="#fff"/>
<rect x="83" y="171" width="1" height="1" fill="#fff"/>
<rect x="84" y="171" width="1" height="1" fill="#fff"/>
<rect x="83" y="170" width="1" height="1" fill="#fff"/>
<rect x="109" y="171" width="1" height="1" fill="#fff"/>
<rect x="108" y="171" width="1" height="1" fill="#fff"/>
<rect x="109" y="170" width="1" height="1" fill="#fff"/>
<rect x="91" y="153" width="10" height="2" fill="#fff"/>
<rect x="91" y="171" width="10" height="2" fill="#fff"/>
<text transform="translate(86.05,166) scale(1.140,1)" font-size="10.17" letter-spacing="0.000" fill="#000" xml:space="preserve">P 0</text>
<rect x="153" y="153" width="87" height="20" fill="#000"/>
<rect x="155" y="155" width="2" height="4" fill="#fff"/>
<rect x="155" y="167" width="2" height="4" fill="#fff"/>
<rect x="159" y="155" width="3" height="4" fill="#fff"/>
<rect x="159" y="167" width="3" height="4" fill="#fff"/>
<rect x="164" y="155" width="2" height="4" fill="#fff"/>
<rect x="164" y="167" width="2" height="4" fill="#fff"/>
<rect x="169" y="155" width="2" height="4" fill="#fff"/>
<rect x="169" y="167" width="2" height="4" fill="#fff"/>
<rect x="173" y="155" width="3" height="4" fill="#fff"/>
<rect x="173" y="167" width="3" height="4" fill="#fff"/>
<rect x="178" y="155" width="2" height="4" fill="#fff"/>
<rect x="178" y="167" width="2" height="4" fill="#fff"/>
<rect x="213" y="155" width="2" height="4" fill="#fff"/>
<rect x="213" y="167" width="2" height="4" fill="#fff"/>
<rect x="217" y="155" width="3" height="4" fill="#fff"/>
<rect x="217" y="167" width="3" height="4" fill="#fff"/>
<rect x="222" y="155" width="2" height="4" fill="#fff"/>
<rect x="222" y="167" width="2" height="4" fill="#fff"/>
<rect x="227" y="155" width="2" height="4" fill="#fff"/>
<rect x="227" y="167" width="2" height="4" fill="#fff"/>
<rect x="231" y="155" width="3" height="4" fill="#fff"/>
<rect x="231" y="167" width="3" height="4" fill="#fff"/>
<rect x="236" y="155" width="2" height="4" fill="#fff"/>
<rect x="236" y="167" width="2" height="4" fill="#fff"/>
<rect x="157" y="161" width="14" height="4" fill="#fff"/>
<rect x="175" y="161" width="8" height="4" fill="#fff"/>
<rect x="210" y="161" width="10" height="4" fill="#fff"/>
<rect x="224" y="161" width="13" height="4" fill="#fff"/>
<rect x="153" y="162" width="2" height="2" fill="#fff"/>
<rect x="185" y="158" width="23" height="11" fill="#fff"/>
<rect x="183" y="155" width="1" height="1" fill="#fff"/>
<rect x="184" y="155" width="1" height="1" fill="#fff"/>
<rect x="183" y="156" width="1" height="1" fill="#fff"/>
<rect x="209" y="155" width="1" height="1" fill="#fff"/>
<rect x="208" y="155" width="1" height="1" fill="#fff"/>
<rect x="209" y="156" width="1" height="1" fill="#fff"/>
<rect x="183" y="171" width="1" height="1" fill="#fff"/>
<rect x="184" y="171" width="1" height="1" fill="#fff"/>
<rect x="183" y="170" width="1" height="1" fill="#fff"/>
<rect x="209" y="171" width="1" height="1" fill="#fff"/>
<rect x="208" y="171" width="1" height="1" fill="#fff"/>
<rect x="209" y="170" width="1" height="1" fill="#fff"/>
<rect x="191" y="153" width="10" height="2" fill="#fff"/>
<rect x="191" y="171" width="10" height="2" fill="#fff"/>
<text transform="translate(186.04,166) scale(1.148,1)" font-size="10.17" letter-spacing="0.000" fill="#000" xml:space="preserve">P 1</text>
<rect x="35" y="199" width="29" height="6" fill="#000"/>
<rect x="37" y="201" width="2" height="2" fill="#fff"/>
<rect x="40" y="200" width="1" height="4" fill="#fff"/>
<rect x="49" y="200" width="1" height="4" fill="#fff"/>
<rect x="54" y="200" width="1" height="4" fill="#fff"/>
<rect x="58" y="200" width="1" height="4" fill="#fff"/>
<rect x="35" y="214" width="25" height="6" fill="#000"/>
<rect x="37" y="216" width="2" height="2" fill="#fff"/>
<rect x="40" y="215" width="1" height="4" fill="#fff"/>
<rect x="49" y="215" width="1" height="4" fill="#fff"/>
<rect x="54" y="215" width="1" height="4" fill="#fff"/>
<rect x="58" y="215" width="1" height="4" fill="#fff"/>
<rect x="64" y="214" width="11" height="6" fill="#000"/>
<rect x="69" y="215" width="1" height="4" fill="#fff"/>
<rect x="35" y="225" width="21" height="5" fill="#000"/>
<rect x="37" y="227" width="2" height="1" fill="#fff"/>
<rect x="40" y="226" width="1" height="3" fill="#fff"/>
<rect x="45" y="226" width="1" height="3" fill="#fff"/>
<rect x="49" y="226" width="1" height="3" fill="#fff"/>
<rect x="54" y="226" width="1" height="3" fill="#fff"/>
<rect x="59" y="225" width="11" height="5" fill="#000"/>
<rect x="64" y="226" width="1" height="3" fill="#fff"/>
<rect x="68" y="226" width="1" height="3" fill="#fff"/>
<rect x="73" y="225" width="11" height="5" fill="#000"/>
<rect x="74" y="226" width="1" height="3" fill="#fff"/>
<rect x="78" y="226" width="1" height="3" fill="#fff"/>
<rect x="40" y="172" width="18" height="14" rx="1.5" fill="#fff" stroke="#000" stroke-width="2"/>
<rect x="46" y="187" width="6" height="3" fill="#000"/>
<rect x="47" y="190" width="4" height="5" fill="#000"/>
<rect x="48" y="195" width="2" height="4" fill="#000"/>
<rect x="49" y="184" width="1" height="5" fill="#fff"/>
<text transform="translate(42.86,183) scale(0.780,1)" font-size="11.63" letter-spacing="0.000" fill="#000" xml:space="preserve">J1</text>
<rect x="3" y="210" width="19" height="13" rx="1.5" fill="#fff" stroke="#000" stroke-width="2"/>
<rect x="23" y="213" width="1" height="8" fill="#000"/>
<rect x="24" y="214" width="2" height="6" fill="#000"/>
<rect x="26" y="215" width="5" height="4" fill="#000"/>
<rect x="31" y="216" width="4" height="2" fill="#000"/>
<rect x="20" y="217" width="5" height="1" fill="#fff"/>
<text transform="translate(7.84,220) scale(0.868,1)" font-size="11.63" letter-spacing="0.000" fill="#000" xml:space="preserve">J2</text>
<rect x="87" y="211" width="19" height="13" rx="1.5" fill="#fff" stroke="#000" stroke-width="2"/>
<rect x="85" y="213" width="1" height="8" fill="#000"/>
<rect x="83" y="214" width="2" height="6" fill="#000"/>
<rect x="78" y="215" width="5" height="4" fill="#000"/>
<rect x="75" y="216" width="3" height="2" fill="#000"/>
<rect x="84" y="217" width="5" height="1" fill="#fff"/>
<text transform="translate(90.84,220) scale(0.986,1)" font-size="10.17" letter-spacing="0.000" fill="#000" xml:space="preserve">J3</text>
<line x1="37.5" y1="236.5" x2="44" y2="229.5" stroke="#000" stroke-width="3.6" stroke-linecap="round" shape-rendering="auto"/>
<rect x="20" y="236" width="18" height="13" rx="1.5" fill="#fff" stroke="#000" stroke-width="2"/>
<line x1="37.5" y1="236.5" x2="42.05" y2="231.60" stroke="#fff" stroke-width="1" shape-rendering="auto"/>
<text transform="translate(23.85,247) scale(0.972,1)" font-size="10.17" letter-spacing="0.000" fill="#000" xml:space="preserve">J4</text>
<rect x="55" y="243" width="19" height="13" rx="1.5" fill="#fff" stroke="#000" stroke-width="2"/>
<rect x="62" y="239" width="6" height="3" fill="#000"/>
<rect x="63" y="234" width="4" height="5" fill="#000"/>
<rect x="64" y="230" width="2" height="4" fill="#000"/>
<rect x="65" y="240" width="1" height="5" fill="#fff"/>
<text transform="translate(57.84,253) scale(0.984,1)" font-size="10.17" letter-spacing="0.000" fill="#000" xml:space="preserve">J5</text>
<line x1="90.5" y1="234.5" x2="83.5" y2="227" stroke="#000" stroke-width="3.6" stroke-linecap="round" shape-rendering="auto"/>
<rect x="90" y="234" width="19" height="12" rx="1.5" fill="#fff" stroke="#000" stroke-width="2"/>
<line x1="90.5" y1="234.5" x2="88.75" y2="232.62" stroke="#fff" stroke-width="1" shape-rendering="auto"/>
<text transform="translate(92.83,243) scale(1.085,1)" font-size="10.17" letter-spacing="0.000" fill="#000" xml:space="preserve">J6</text>
<rect x="172" y="182" width="15" height="5" fill="#000"/>
<rect x="174" y="184" width="2" height="1" fill="#fff"/>
<rect x="178" y="183" width="1" height="3" fill="#fff"/>
<rect x="181" y="183" width="1" height="3" fill="#fff"/>
<rect x="193" y="182" width="16" height="5" fill="#000"/>
<rect x="194" y="183" width="1" height="3" fill="#fff"/>
<rect x="196" y="184" width="1" height="1" fill="#fff"/>
<rect x="198" y="183" width="1" height="3" fill="#fff"/>
<rect x="204" y="183" width="1" height="3" fill="#fff"/>
<rect x="214" y="182" width="16" height="5" fill="#000"/>
<rect x="216" y="183" width="1" height="3" fill="#fff"/>
<rect x="217" y="184" width="2" height="1" fill="#fff"/>
<rect x="224" y="183" width="1" height="3" fill="#fff"/>
<rect x="172" y="191" width="15" height="6" fill="#000"/>
<rect x="174" y="193" width="2" height="2" fill="#fff"/>
<rect x="178" y="192" width="1" height="4" fill="#fff"/>
<rect x="181" y="192" width="1" height="4" fill="#fff"/>
<rect x="193" y="191" width="16" height="6" fill="#000"/>
<rect x="194" y="192" width="1" height="4" fill="#fff"/>
<rect x="196" y="193" width="2" height="2" fill="#fff"/>
<rect x="198" y="192" width="1" height="4" fill="#fff"/>
<rect x="204" y="192" width="1" height="4" fill="#fff"/>
<rect x="214" y="191" width="16" height="6" fill="#000"/>
<rect x="215" y="192" width="1" height="4" fill="#fff"/>
<rect x="217" y="193" width="2" height="2" fill="#fff"/>
<rect x="224" y="192" width="1" height="4" fill="#fff"/>
<rect x="242" y="156" width="7" height="16" fill="#000"/>
<rect x="244" y="157" width="3" height="1" fill="#fff"/>
<rect x="245" y="159" width="2" height="1" fill="#fff"/>
<rect x="244" y="161" width="3" height="1" fill="#fff"/>
<rect x="244" y="166" width="3" height="1" fill="#fff"/>
<rect x="141" y="178" width="19" height="13" rx="1.5" fill="#fff" stroke="#000" stroke-width="2"/>
<rect x="161" y="180" width="1" height="8" fill="#000"/>
<rect x="162" y="181" width="2" height="6" fill="#000"/>
<rect x="164" y="182" width="5" height="4" fill="#000"/>
<rect x="169" y="183" width="3" height="2" fill="#000"/>
<rect x="158" y="184" width="5" height="1" fill="#fff"/>
<text transform="translate(141.96,188) scale(0.832,1)" font-size="11.63" letter-spacing="0.000" fill="#000" xml:space="preserve">W1</text>
<line x1="163.5" y1="200.5" x2="172" y2="195" stroke="#000" stroke-width="3.6" stroke-linecap="round" shape-rendering="auto"/>
<rect x="147" y="200" width="18" height="14" rx="1.5" fill="#fff" stroke="#000" stroke-width="2"/>
<line x1="163.5" y1="200.5" x2="169.88" y2="196.38" stroke="#fff" stroke-width="1" shape-rendering="auto"/>
<text transform="translate(148.95,211) scale(0.893,1)" font-size="11.63" letter-spacing="0.000" fill="#000" xml:space="preserve">W2</text>
<line x1="216" y1="177" x2="208.5" y2="184" stroke="#000" stroke-width="3.6" stroke-linecap="round" shape-rendering="auto"/>
<rect x="215" y="165" width="18" height="12" rx="1.5" fill="#fff" stroke="#000" stroke-width="2"/>
<line x1="216" y1="177" x2="210.38" y2="182.25" stroke="#fff" stroke-width="1" shape-rendering="auto"/>
<text transform="translate(215.95,176) scale(0.889,1)" font-size="11.63" letter-spacing="0.000" fill="#000" xml:space="preserve">W3</text>
<rect x="242" y="178" width="19" height="13" rx="1.5" fill="#fff" stroke="#000" stroke-width="2"/>
<rect x="240" y="180" width="1" height="8" fill="#000"/>
<rect x="238" y="181" width="2" height="6" fill="#000"/>
<rect x="233" y="182" width="5" height="4" fill="#000"/>
<rect x="230" y="183" width="3" height="2" fill="#000"/>
<rect x="239" y="184" width="5" height="1" fill="#fff"/>
<text transform="translate(242.95,188) scale(0.887,1)" font-size="11.63" letter-spacing="0.000" fill="#000" xml:space="preserve">W5</text>
<rect x="191" y="210" width="18" height="13" rx="1.5" fill="#fff" stroke="#000" stroke-width="2"/>
<rect x="198" y="206" width="6" height="3" fill="#000"/>
<rect x="199" y="201" width="4" height="5" fill="#000"/>
<rect x="200" y="197" width="2" height="4" fill="#000"/>
<rect x="201" y="207" width="1" height="5" fill="#fff"/>
<text transform="translate(192.96,220) scale(0.821,1)" font-size="11.63" letter-spacing="0.000" fill="#000" xml:space="preserve">W4</text>
<line x1="237.5" y1="200.5" x2="230" y2="194" stroke="#000" stroke-width="3.6" stroke-linecap="round" shape-rendering="auto"/>
<rect x="236" y="200" width="18" height="12" rx="1.5" fill="#fff" stroke="#000" stroke-width="2"/>
<line x1="237.5" y1="200.5" x2="235.62" y2="198.88" stroke="#fff" stroke-width="1" shape-rendering="auto"/>
<text transform="translate(236.95,210) scale(0.948,1)" font-size="11.63" letter-spacing="0.000" fill="#000" xml:space="preserve">W6</text>
<rect x="260" y="158" width="19" height="13" rx="1.5" fill="#fff" stroke="#000" stroke-width="2"/>
<rect x="258" y="160" width="1" height="8" fill="#000"/>
<rect x="256" y="161" width="2" height="6" fill="#000"/>
<rect x="251" y="162" width="5" height="4" fill="#000"/>
<rect x="249" y="163" width="2" height="2" fill="#000"/>
<rect x="257" y="164" width="5" height="1" fill="#fff"/>
<text transform="translate(261.95,167) scale(1.088,1)" font-size="10.17" letter-spacing="0.000" fill="#000" xml:space="preserve">W7</text>
<rect x="187" y="237" width="45" height="44" fill="#000"/>
<rect x="193" y="237" width="1" height="3" fill="#fff"/>
<rect x="193" y="278" width="1" height="3" fill="#fff"/>
<rect x="187" y="242" width="4" height="1" fill="#fff"/>
<rect x="227" y="242" width="5" height="1" fill="#fff"/>
<rect x="197" y="237" width="1" height="3" fill="#fff"/>
<rect x="197" y="278" width="1" height="3" fill="#fff"/>
<rect x="187" y="247" width="4" height="1" fill="#fff"/>
<rect x="227" y="247" width="5" height="1" fill="#fff"/>
<rect x="202" y="237" width="1" height="3" fill="#fff"/>
<rect x="202" y="278" width="1" height="3" fill="#fff"/>
<rect x="187" y="251" width="4" height="1" fill="#fff"/>
<rect x="227" y="251" width="5" height="1" fill="#fff"/>
<rect x="206" y="237" width="1" height="3" fill="#fff"/>
<rect x="206" y="278" width="1" height="3" fill="#fff"/>
<rect x="187" y="256" width="4" height="1" fill="#fff"/>
<rect x="227" y="256" width="5" height="1" fill="#fff"/>
<rect x="211" y="237" width="1" height="3" fill="#fff"/>
<rect x="211" y="278" width="1" height="3" fill="#fff"/>
<rect x="187" y="260" width="4" height="1" fill="#fff"/>
<rect x="227" y="260" width="5" height="1" fill="#fff"/>
<rect x="215" y="237" width="1" height="3" fill="#fff"/>
<rect x="215" y="278" width="1" height="3" fill="#fff"/>
<rect x="187" y="265" width="4" height="1" fill="#fff"/>
<rect x="227" y="265" width="5" height="1" fill="#fff"/>
<rect x="220" y="237" width="1" height="3" fill="#fff"/>
<rect x="220" y="278" width="1" height="3" fill="#fff"/>
<rect x="187" y="269" width="4" height="1" fill="#fff"/>
<rect x="227" y="269" width="5" height="1" fill="#fff"/>
<rect x="224" y="237" width="1" height="3" fill="#fff"/>
<rect x="224" y="278" width="1" height="3" fill="#fff"/>
<rect x="187" y="274" width="4" height="1" fill="#fff"/>
<rect x="227" y="274" width="5" height="1" fill="#fff"/>
<rect x="229" y="240" width="3" height="1" fill="#fff"/>
<rect x="229" y="277" width="3" height="1" fill="#fff"/>
<rect x="187" y="240" width="3" height="1" fill="#fff"/>
<rect x="187" y="277" width="3" height="1" fill="#fff"/>
<rect x="228" y="241" width="4" height="1" fill="#fff"/>
<rect x="228" y="276" width="4" height="1" fill="#fff"/>
<rect x="187" y="241" width="4" height="1" fill="#fff"/>
<rect x="187" y="276" width="4" height="1" fill="#fff"/>
<rect x="227" y="242" width="5" height="1" fill="#fff"/>
<rect x="227" y="275" width="5" height="1" fill="#fff"/>
<rect x="187" y="242" width="5" height="1" fill="#fff"/>
<rect x="187" y="275" width="5" height="1" fill="#fff"/>
<rect x="224" y="237" width="2" height="2" fill="#fff"/>
<rect x="224" y="279" width="2" height="2" fill="#fff"/>
<rect x="193" y="237" width="2" height="2" fill="#fff"/>
<rect x="193" y="279" width="2" height="2" fill="#fff"/>
<rect x="226" y="237" width="1" height="1" fill="#fff"/>
<rect x="226" y="280" width="1" height="1" fill="#fff"/>
<rect x="192" y="237" width="1" height="1" fill="#fff"/>
<rect x="192" y="280" width="1" height="1" fill="#fff"/>
<rect x="231" y="237" width="1" height="1" fill="#fff"/>
<rect x="231" y="280" width="1" height="1" fill="#fff"/>
<rect x="187" y="237" width="1" height="1" fill="#fff"/>
<rect x="187" y="280" width="1" height="1" fill="#fff"/>
<rect x="198" y="253" width="22" height="11" fill="#fff"/>
<text transform="translate(198.51,263) scale(0.824,1)" font-size="11.63" letter-spacing="0.000" fill="#000" xml:space="preserve">CPU</text>
<rect x="267" y="234" width="52" height="53" fill="#000"/>
<rect x="278" y="246" width="30" height="29" fill="#fff"/>
<rect x="270" y="237" width="2" height="1" fill="#fff"/>
<rect x="270" y="238" width="1" height="1" fill="#fff"/>
<rect x="270" y="282" width="2" height="2" fill="#fff"/>
<rect x="314" y="237" width="2" height="2" fill="#fff"/>
<rect x="274" y="237" width="2" height="1" fill="#fff"/>
<rect x="274" y="236" width="1" height="3" fill="#fff"/>
<rect x="274" y="282" width="2" height="2" fill="#fff"/>
<rect x="270" y="241" width="1" height="2" fill="#fff"/>
<rect x="314" y="241" width="2" height="2" fill="#fff"/>
<rect x="279" y="237" width="1" height="2" fill="#fff"/>
<rect x="279" y="282" width="2" height="2" fill="#fff"/>
<rect x="270" y="246" width="2" height="1" fill="#fff"/>
<rect x="270" y="247" width="1" height="1" fill="#fff"/>
<rect x="314" y="246" width="2" height="2" fill="#fff"/>
<rect x="283" y="237" width="2" height="2" fill="#fff"/>
<rect x="283" y="282" width="2" height="2" fill="#fff"/>
<rect x="270" y="251" width="1" height="2" fill="#fff"/>
<rect x="314" y="251" width="2" height="2" fill="#fff"/>
<rect x="288" y="237" width="1" height="2" fill="#fff"/>
<rect x="288" y="282" width="2" height="2" fill="#fff"/>
<rect x="270" y="255" width="2" height="2" fill="#fff"/>
<rect x="314" y="255" width="2" height="2" fill="#fff"/>
<rect x="292" y="237" width="2" height="2" fill="#fff"/>
<rect x="292" y="282" width="2" height="2" fill="#fff"/>
<rect x="270" y="259" width="2" height="1" fill="#fff"/>
<rect x="270" y="260" width="1" height="1" fill="#fff"/>
<rect x="314" y="259" width="2" height="2" fill="#fff"/>
<rect x="296" y="237" width="2" height="2" fill="#fff"/>
<rect x="296" y="282" width="2" height="2" fill="#fff"/>
<rect x="270" y="264" width="1" height="2" fill="#fff"/>
<rect x="314" y="264" width="2" height="2" fill="#fff"/>
<rect x="301" y="237" width="2" height="2" fill="#fff"/>
<rect x="301" y="282" width="2" height="2" fill="#fff"/>
<rect x="270" y="269" width="2" height="1" fill="#fff"/>
<rect x="270" y="270" width="1" height="1" fill="#fff"/>
<rect x="314" y="269" width="2" height="2" fill="#fff"/>
<rect x="305" y="237" width="2" height="2" fill="#fff"/>
<rect x="305" y="282" width="2" height="2" fill="#fff"/>
<rect x="270" y="273" width="2" height="2" fill="#fff"/>
<rect x="314" y="273" width="2" height="2" fill="#fff"/>
<rect x="310" y="237" width="2" height="1" fill="#fff"/>
<rect x="310" y="238" width="1" height="1" fill="#fff"/>
<rect x="310" y="282" width="2" height="2" fill="#fff"/>
<rect x="270" y="277" width="2" height="1" fill="#fff"/>
<rect x="270" y="276" width="1" height="3" fill="#fff"/>
<rect x="314" y="277" width="2" height="2" fill="#fff"/>
<rect x="314" y="237" width="2" height="1" fill="#fff"/>
<rect x="314" y="238" width="1" height="1" fill="#fff"/>
<rect x="314" y="282" width="2" height="2" fill="#fff"/>
<rect x="270" y="282" width="2" height="2" fill="#fff"/>
<rect x="314" y="282" width="2" height="2" fill="#fff"/>
<rect x="274" y="241" width="2" height="1" fill="#fff"/>
<rect x="274" y="242" width="1" height="1" fill="#fff"/>
<rect x="274" y="277" width="2" height="2" fill="#fff"/>
<rect x="310" y="241" width="2" height="2" fill="#fff"/>
<rect x="278" y="241" width="1" height="2" fill="#fff"/>
<rect x="278" y="277" width="2" height="2" fill="#fff"/>
<rect x="274" y="246" width="2" height="2" fill="#fff"/>
<rect x="310" y="246" width="2" height="2" fill="#fff"/>
<rect x="283" y="241" width="2" height="1" fill="#fff"/>
<rect x="283" y="240" width="1" height="3" fill="#fff"/>
<rect x="283" y="277" width="2" height="2" fill="#fff"/>
<rect x="274" y="250" width="2" height="2" fill="#fff"/>
<rect x="310" y="250" width="2" height="2" fill="#fff"/>
<rect x="288" y="241" width="2" height="2" fill="#fff"/>
<rect x="288" y="277" width="2" height="2" fill="#fff"/>
<rect x="274" y="255" width="2" height="2" fill="#fff"/>
<rect x="310" y="255" width="2" height="2" fill="#fff"/>
<rect x="292" y="241" width="2" height="1" fill="#fff"/>
<rect x="292" y="240" width="1" height="3" fill="#fff"/>
<rect x="292" y="277" width="2" height="2" fill="#fff"/>
<rect x="274" y="259" width="2" height="2" fill="#fff"/>
<rect x="310" y="259" width="2" height="2" fill="#fff"/>
<rect x="296" y="241" width="2" height="1" fill="#fff"/>
<rect x="296" y="242" width="1" height="1" fill="#fff"/>
<rect x="296" y="277" width="2" height="2" fill="#fff"/>
<rect x="274" y="264" width="2" height="2" fill="#fff"/>
<rect x="310" y="264" width="2" height="2" fill="#fff"/>
<rect x="301" y="241" width="1" height="2" fill="#fff"/>
<rect x="301" y="277" width="2" height="2" fill="#fff"/>
<rect x="274" y="269" width="2" height="2" fill="#fff"/>
<rect x="310" y="269" width="2" height="2" fill="#fff"/>
<rect x="306" y="241" width="2" height="1" fill="#fff"/>
<rect x="306" y="242" width="1" height="1" fill="#fff"/>
<rect x="306" y="277" width="2" height="2" fill="#fff"/>
<rect x="274" y="273" width="2" height="2" fill="#fff"/>
<rect x="310" y="273" width="2" height="2" fill="#fff"/>
<rect x="310" y="241" width="2" height="2" fill="#fff"/>
<rect x="310" y="277" width="2" height="2" fill="#fff"/>
<rect x="274" y="278" width="2" height="2" fill="#fff"/>
<rect x="310" y="278" width="2" height="2" fill="#fff"/>
<rect x="280" y="253" width="26" height="14" fill="#000"/>
<rect x="282" y="255" width="23" height="10" fill="#fff"/>
<text transform="translate(282.16,264) scale(0.881,1)" font-size="11.63" letter-spacing="0.000" fill="#000" xml:space="preserve">NPU</text>
<rect x="505" y="282" width="21" height="6" fill="#000"/>
<rect x="506" y="284" width="2" height="2" fill="#fff"/>
<rect x="515" y="284" width="1" height="2" fill="#fff"/>
<rect x="520" y="284" width="1" height="2" fill="#fff"/>
<rect x="524" y="284" width="1" height="2" fill="#fff"/>
<rect x="538" y="279" width="19" height="13" rx="1.5" fill="#fff" stroke="#000" stroke-width="2"/>
<rect x="536" y="281" width="1" height="8" fill="#000"/>
<rect x="534" y="282" width="2" height="6" fill="#000"/>
<rect x="529" y="283" width="5" height="4" fill="#000"/>
<rect x="526" y="284" width="3" height="2" fill="#000"/>
<rect x="535" y="285" width="5" height="1" fill="#fff"/>
<text transform="translate(541.83,289) scale(1.092,1)" font-size="10.17" letter-spacing="0.000" fill="#000" xml:space="preserve">J7</text>
<rect x="576" y="298" width="6" height="15" fill="#000"/>
<rect x="578" y="300" width="2" height="2" fill="#fff"/>
<rect x="578" y="303" width="2" height="1" fill="#fff"/>
<rect x="537" y="299" width="27" height="13" rx="1.5" fill="#fff" stroke="#000" stroke-width="2"/>
<rect x="565" y="301" width="1" height="8" fill="#000"/>
<rect x="566" y="302" width="2" height="6" fill="#000"/>
<rect x="568" y="303" width="5" height="4" fill="#000"/>
<rect x="573" y="304" width="3" height="2" fill="#000"/>
<rect x="562" y="305" width="5" height="1" fill="#fff"/>
<text transform="translate(538.95,309) scale(0.942,1)" font-size="11.63" letter-spacing="0.000" fill="#000" xml:space="preserve">W13</text>
<rect x="586" y="284" width="1" height="17" fill="#000"/>
<rect x="618" y="284" width="1" height="17" fill="#000"/>
<rect x="587" y="283" width="1" height="1" fill="#000"/>
<rect x="617" y="283" width="1" height="1" fill="#000"/>
<rect x="587" y="301" width="2" height="1" fill="#000"/>
<rect x="617" y="300" width="1" height="1" fill="#000"/>
<rect x="587" y="300" width="1" height="1" fill="#000"/>
<rect x="588" y="282" width="1" height="1" fill="#000"/>
<rect x="593" y="282" width="8" height="1" fill="#000"/>
<rect x="605" y="282" width="8" height="1" fill="#000"/>
<rect x="617" y="282" width="1" height="1" fill="#000"/>
<rect x="589" y="281" width="4" height="1" fill="#000"/>
<rect x="601" y="281" width="4" height="1" fill="#000"/>
<rect x="613" y="281" width="4" height="1" fill="#000"/>
<rect x="594" y="301" width="6" height="1" fill="#000"/>
<rect x="606" y="301" width="6" height="1" fill="#000"/>
<rect x="589" y="302" width="5" height="1" fill="#000"/>
<rect x="600" y="302" width="6" height="1" fill="#000"/>
<rect x="612" y="302" width="5" height="1" fill="#000"/>
<rect x="617" y="301" width="1" height="1" fill="#000"/>
<rect x="390" y="343" width="5" height="16" fill="#000"/>
<rect x="391" y="344" width="3" height="1" fill="#fff"/>
<rect x="391" y="346" width="2" height="1" fill="#fff"/>
<rect x="391" y="348" width="3" height="1" fill="#fff"/>
<rect x="391" y="353" width="3" height="1" fill="#fff"/>
<rect x="398" y="343" width="5" height="16" fill="#000"/>
<rect x="399" y="344" width="3" height="1" fill="#fff"/>
<rect x="400" y="346" width="1" height="1" fill="#fff"/>
<rect x="399" y="348" width="3" height="1" fill="#fff"/>
<rect x="399" y="353" width="3" height="1" fill="#fff"/>
<rect x="412" y="343" width="5" height="16" fill="#000"/>
<rect x="413" y="344" width="3" height="1" fill="#fff"/>
<rect x="414" y="346" width="1" height="1" fill="#fff"/>
<rect x="413" y="348" width="3" height="1" fill="#fff"/>
<rect x="413" y="353" width="3" height="1" fill="#fff"/>
<rect x="358" y="345" width="19" height="11" rx="1.5" fill="#fff" stroke="#000" stroke-width="2"/>
<rect x="378" y="346" width="1" height="8" fill="#000"/>
<rect x="379" y="347" width="2" height="6" fill="#000"/>
<rect x="381" y="348" width="5" height="4" fill="#000"/>
<rect x="386" y="349" width="4" height="2" fill="#000"/>
<rect x="375" y="350" width="5" height="1" fill="#fff"/>
<text transform="translate(359.95,354) scale(1.015,1)" font-size="10.17" letter-spacing="0.000" fill="#000" xml:space="preserve">W8</text>
<line x1="393" y1="337" x2="400.5" y2="343.5" stroke="#000" stroke-width="3.6" stroke-linecap="round" shape-rendering="auto"/>
<rect x="376" y="324" width="19" height="13" rx="1.5" fill="#fff" stroke="#000" stroke-width="2"/>
<line x1="393" y1="337" x2="394.88" y2="338.62" stroke="#fff" stroke-width="1" shape-rendering="auto"/>
<text transform="translate(378.95,334) scale(1.018,1)" font-size="10.17" letter-spacing="0.000" fill="#000" xml:space="preserve">W9</text>
<line x1="407.5" y1="364" x2="414.5" y2="358.5" stroke="#000" stroke-width="3.6" stroke-linecap="round" shape-rendering="auto"/>
<rect x="385" y="364" width="24" height="12" rx="1.5" fill="#fff" stroke="#000" stroke-width="2"/>
<line x1="407.5" y1="364" x2="408.90" y2="362.90" stroke="#fff" stroke-width="1" shape-rendering="auto"/>
<text transform="translate(385.96,374) scale(0.932,1)" font-size="10.17" letter-spacing="0.000" fill="#000" xml:space="preserve">W11</text>
<rect x="611" y="335" width="19" height="30" fill="#000"/>
<rect x="630" y="332" width="2" height="36" fill="#000"/>
<rect x="632" y="330" width="2" height="40" fill="#000"/>
<rect x="609" y="340" width="2" height="20" fill="#000"/>
<rect x="610" y="349" width="1" height="2" fill="#fff"/>
<rect x="605.5" y="342.5" width="4" height="6" fill="#fff" stroke="#000" stroke-width="1"/>
<rect x="605.5" y="351.5" width="4" height="6" fill="#fff" stroke="#000" stroke-width="1"/>
<rect x="481" y="384" width="90" height="20" fill="#000"/>
<rect x="482" y="385" width="88" height="18" fill="#fff"/>
<rect x="483" y="387" width="7" height="2" fill="#000"/>
<rect x="484" y="389" width="5" height="1" fill="#000"/>
<rect x="484" y="389" width="1" height="1" fill="#fff"/>
<rect x="483" y="392" width="6" height="2" fill="#000"/>
<rect x="486" y="395" width="6" height="6" fill="#000"/>
<rect x="487" y="396" width="4" height="4" fill="#fff"/>
<rect x="490" y="387" width="7" height="2" fill="#000"/>
<rect x="491" y="389" width="5" height="1" fill="#000"/>
<rect x="491" y="389" width="1" height="1" fill="#fff"/>
<rect x="490" y="392" width="6" height="2" fill="#000"/>
<rect x="493" y="395" width="6" height="6" fill="#000"/>
<rect x="494" y="396" width="4" height="4" fill="#fff"/>
<rect x="498" y="387" width="7" height="2" fill="#000"/>
<rect x="499" y="389" width="5" height="1" fill="#000"/>
<rect x="499" y="389" width="1" height="1" fill="#fff"/>
<rect x="498" y="392" width="6" height="2" fill="#000"/>
<rect x="501" y="395" width="6" height="6" fill="#000"/>
<rect x="502" y="396" width="4" height="4" fill="#fff"/>
<rect x="505" y="387" width="7" height="2" fill="#000"/>
<rect x="506" y="389" width="5" height="1" fill="#000"/>
<rect x="506" y="389" width="1" height="1" fill="#fff"/>
<rect x="505" y="392" width="6" height="2" fill="#000"/>
<rect x="508" y="395" width="6" height="6" fill="#000"/>
<rect x="509" y="396" width="4" height="4" fill="#fff"/>
<rect x="513" y="387" width="7" height="2" fill="#000"/>
<rect x="514" y="389" width="5" height="1" fill="#000"/>
<rect x="514" y="389" width="1" height="1" fill="#fff"/>
<rect x="513" y="392" width="6" height="2" fill="#000"/>
<rect x="516" y="395" width="6" height="6" fill="#000"/>
<rect x="517" y="396" width="4" height="4" fill="#fff"/>
<rect x="520" y="387" width="7" height="2" fill="#000"/>
<rect x="521" y="389" width="5" height="1" fill="#000"/>
<rect x="521" y="389" width="1" height="1" fill="#fff"/>
<rect x="520" y="392" width="6" height="2" fill="#000"/>
<rect x="523" y="395" width="6" height="6" fill="#000"/>
<rect x="524" y="396" width="4" height="4" fill="#fff"/>
<rect x="528" y="387" width="7" height="2" fill="#000"/>
<rect x="529" y="389" width="5" height="1" fill="#000"/>
<rect x="529" y="389" width="1" height="1" fill="#fff"/>
<rect x="528" y="392" width="6" height="2" fill="#000"/>
<rect x="531" y="395" width="6" height="6" fill="#000"/>
<rect x="532" y="396" width="4" height="4" fill="#fff"/>
<rect x="535" y="387" width="7" height="2" fill="#000"/>
<rect x="536" y="389" width="5" height="1" fill="#000"/>
<rect x="536" y="389" width="1" height="1" fill="#fff"/>
<rect x="535" y="392" width="6" height="2" fill="#000"/>
<rect x="538" y="395" width="6" height="6" fill="#000"/>
<rect x="539" y="396" width="4" height="4" fill="#fff"/>
<rect x="543" y="387" width="7" height="2" fill="#000"/>
<rect x="544" y="389" width="5" height="1" fill="#000"/>
<rect x="544" y="389" width="1" height="1" fill="#fff"/>
<rect x="543" y="392" width="6" height="2" fill="#000"/>
<rect x="546" y="395" width="6" height="6" fill="#000"/>
<rect x="547" y="396" width="4" height="4" fill="#fff"/>
<rect x="550" y="387" width="7" height="2" fill="#000"/>
<rect x="551" y="389" width="5" height="1" fill="#000"/>
<rect x="551" y="389" width="1" height="1" fill="#fff"/>
<rect x="550" y="392" width="6" height="2" fill="#000"/>
<rect x="553" y="395" width="6" height="6" fill="#000"/>
<rect x="554" y="396" width="4" height="4" fill="#fff"/>
<rect x="557" y="387" width="7" height="2" fill="#000"/>
<rect x="558" y="389" width="5" height="1" fill="#000"/>
<rect x="558" y="389" width="1" height="1" fill="#fff"/>
<rect x="557" y="392" width="6" height="2" fill="#000"/>
<rect x="560" y="395" width="6" height="6" fill="#000"/>
<rect x="561" y="396" width="4" height="4" fill="#fff"/>
<rect x="565" y="387" width="4" height="2" fill="#000"/>
<rect x="566" y="389" width="3" height="1" fill="#000"/>
<rect x="566" y="389" width="1" height="1" fill="#fff"/>
<rect x="565" y="392" width="4" height="2" fill="#000"/>
<rect x="451" y="390" width="16" height="6" fill="#000"/>
<rect x="453" y="392" width="2" height="2" fill="#fff"/>
<rect x="456" y="392" width="1" height="2" fill="#fff"/>
<rect x="461" y="392" width="1" height="2" fill="#fff"/>
<line x1="473.5" y1="399.5" x2="466.5" y2="392.5" stroke="#000" stroke-width="3.6" stroke-linecap="round" shape-rendering="auto"/>
<rect x="472" y="399" width="27" height="12" rx="1.5" fill="#fff" stroke="#000" stroke-width="2"/>
<line x1="473.5" y1="399.5" x2="472.10" y2="398.10" stroke="#fff" stroke-width="1" shape-rendering="auto"/>
<text transform="translate(473.95,409) scale(0.988,1)" font-size="11.63" letter-spacing="0.000" fill="#000" xml:space="preserve">W12</text>
</svg>
</body></html>
